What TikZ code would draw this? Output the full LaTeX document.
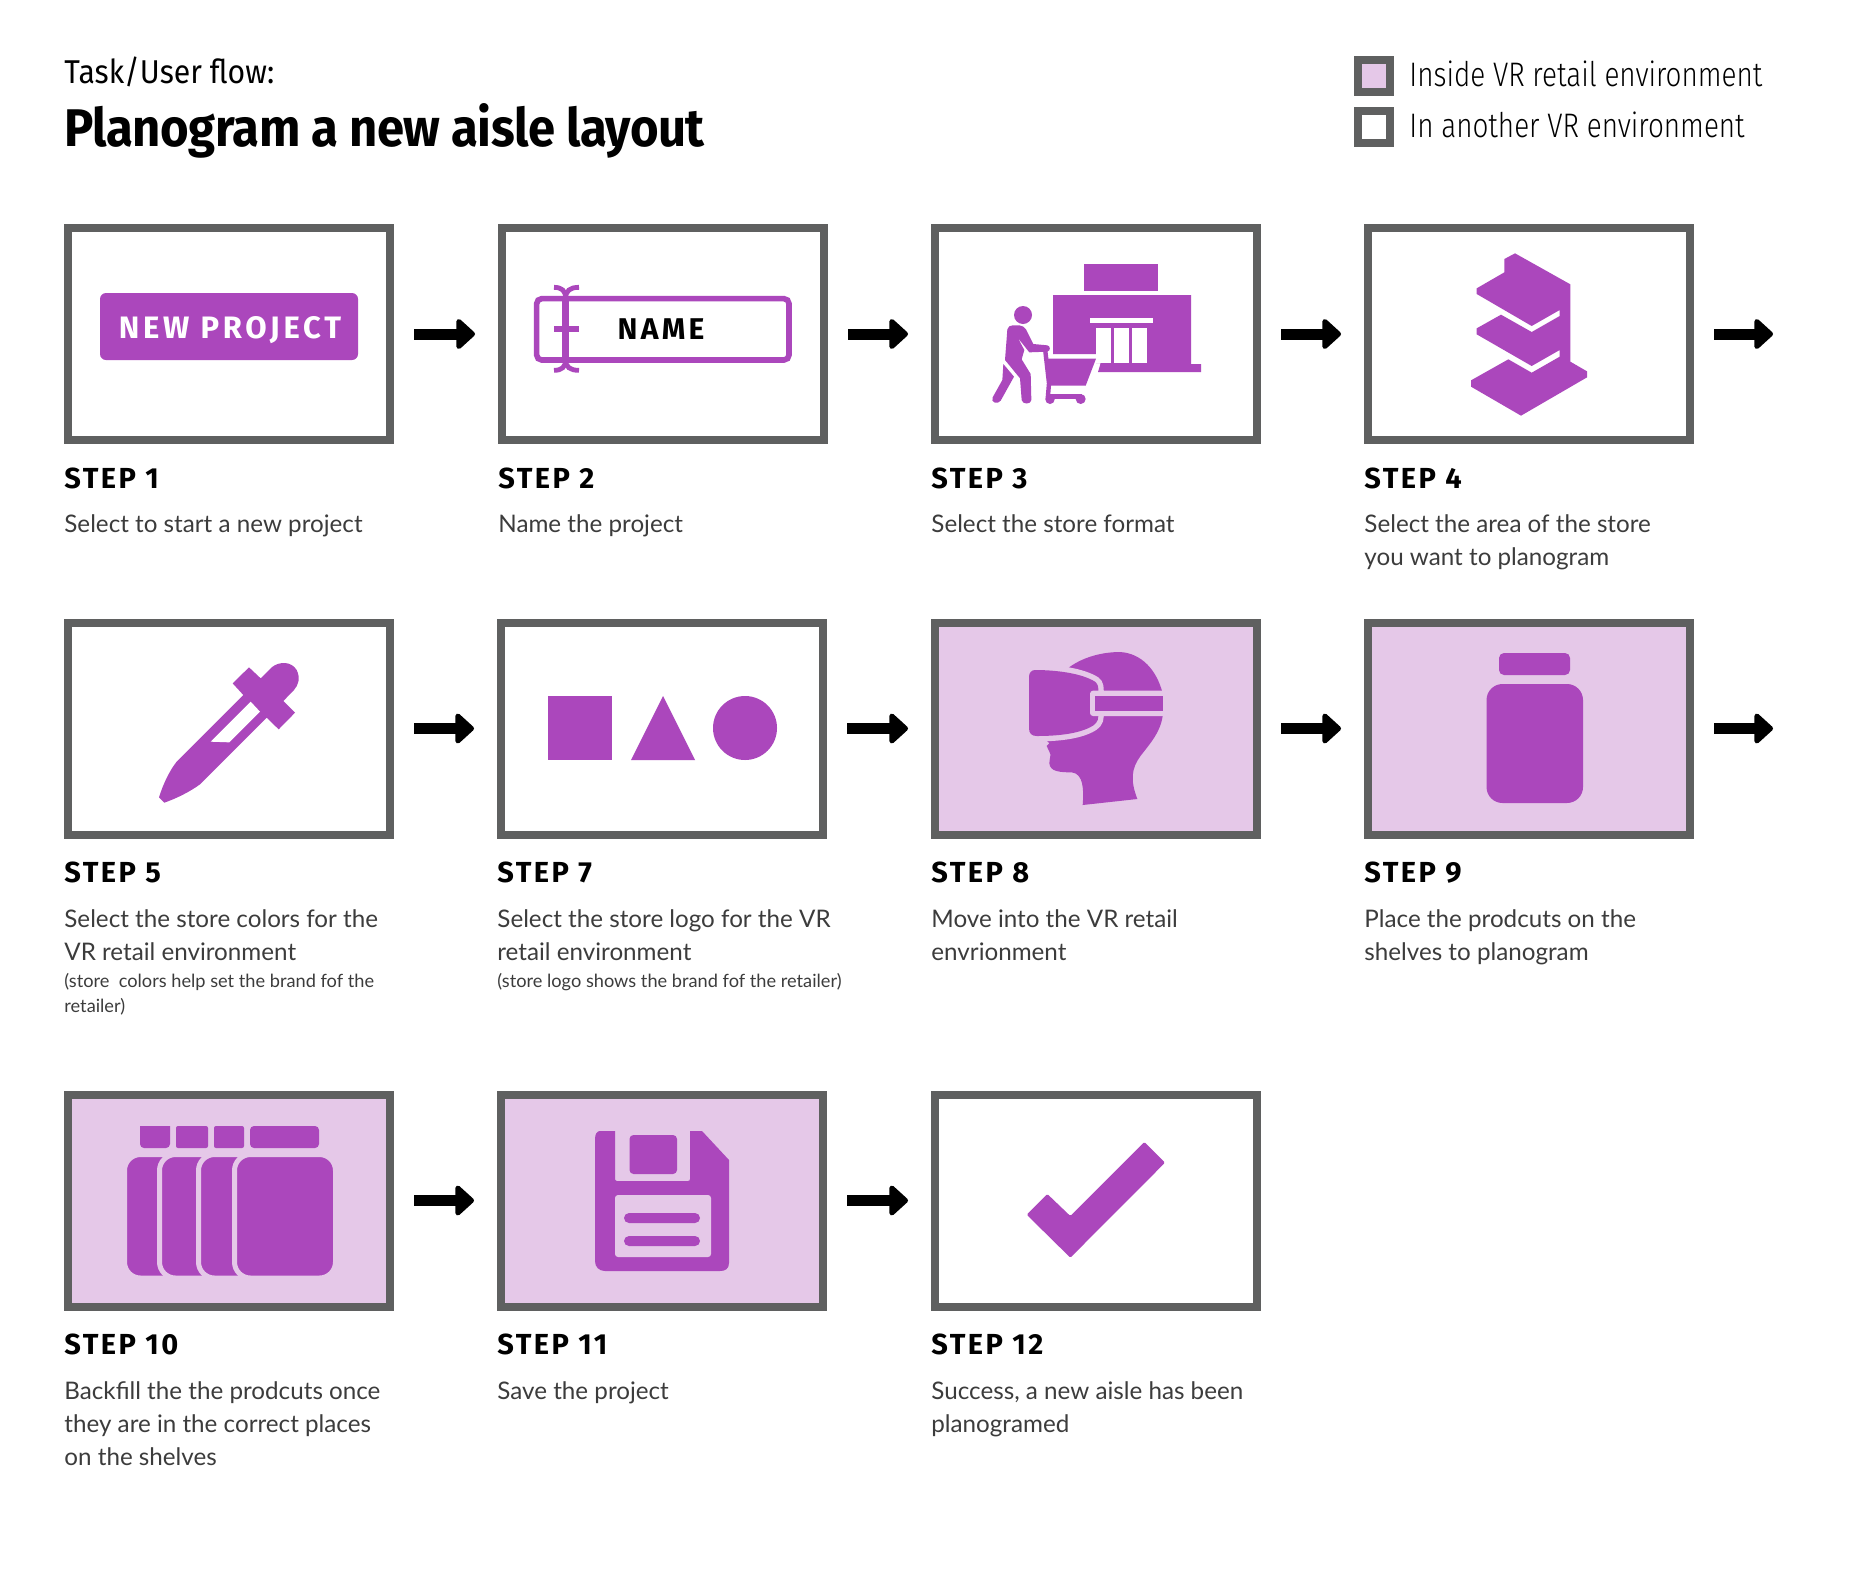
\documentclass[tikz,border=0pt]{standalone}
\usepackage{fontspec}
\usetikzlibrary{arrows.meta}
\setmainfont{Lato}
\newfontfamily\bodyf{Lato}
\newfontfamily\stepf[LetterSpace=8.5]{Fira Sans}
\newfontfamily\btnf[LetterSpace=12]{Fira Sans}
\newfontfamily\namef[LetterSpace=11]{Fira Sans}
\newfontfamily\titlef[LetterSpace=-1,FakeStretch=0.925]{Fira Sans}
\newfontfamily\headf[FakeStretch=0.915]{Fira Sans}
\newfontfamily\legf[UprightFont={* Light},FakeStretch=0.82]{Fira Sans}
\definecolor{framegray}{HTML}{5F6060}
\definecolor{vio}{HTML}{AB47BC}
\definecolor{lilac}{HTML}{E5C8E8}
\definecolor{bodyink}{HTML}{3C3C3C}
\tikzset{
  card/.style={draw=framegray,line width=4pt,rectangle,minimum width=161pt,minimum height=106pt,inner sep=0pt,fill=white},
  vrcard/.style={fill=lilac},
  chip/.style={draw=framegray,line width=4pt,rectangle,minimum width=16pt,minimum height=16pt,inner sep=0pt},
  flowarrow/.style={line width=5.5pt,-{Triangle[length=10pt,width=17.5pt,round,line width=3pt]},shorten <=10pt,shorten >=11.5pt},
  steplabel/.style={anchor=base west,inner sep=0pt,font=\stepf\bfseries\fontsize{14.5}{16}\selectfont,text=black},
  desc/.style={anchor=base west,inner sep=0pt,font=\bodyf\fontsize{12.1}{16.5}\selectfont,text=bodyink},
  legendtext/.style={anchor=base west,inner sep=0pt,font=\legf\fontsize{17}{20}\selectfont,text=black},
  zoomed/.style={x=0.166667pt,y=-0.166667pt},
}
\newcommand{\tinylines}{\fontsize{9.1}{12.5}\selectfont\baselineskip=12.5pt }
\newcommand{\card}[6]{%
  \node[card,#4] (#1) at (#2+165,#3+110) {};
  \node[steplabel] (#1t) at (#2,#3+264) {#5};
  \node[desc] (#1d) at (#2,#3+308.5) {\vtop{\baselineskip=16.5pt #6}};
}
\begin{document}
\begin{tikzpicture}[x=0.5pt,y=-0.5pt]
\useasboundingbox (0,0) rectangle (1850,1590);
\fill[white] (0,0) rectangle (1850,1590);
% header
\node[anchor=base west,inner sep=0pt,font=\headf\fontsize{16.5}{18}\selectfont] (kicker) at (64,83) {Task/User flow:};
\node[anchor=base west,inner sep=0pt,font=\titlef\bfseries\fontsize{26.5}{30}\selectfont] (title) at (64,146) {Planogram a new aisle layout};
% legend
\node[chip,fill=lilac] (leg1) at (1374,75.5) {};
\node[chip,fill=white] (leg2) at (1374,126.5) {};
\node[legendtext] (leg1t) at (1409,86.5) {Inside VR retail environment};
\node[legendtext] (leg2t) at (1409,137.5) {In another VR environment};
% cards
\card{s1}{64}{224}{}{STEP 1}{\hbox{Select to start a new project}}
\card{s2}{498}{224}{}{STEP 2}{\hbox{Name the project}}
\card{s3}{931}{224}{}{STEP 3}{\hbox{Select the store format}}
\card{s4}{1364}{224}{}{STEP 4}{\hbox{Select the area of the store}\hbox{you want to planogram}}
\card{s5}{64}{618.5}{}{STEP 5}{\hbox{Select the store colors for the}\hbox{VR retail environment}\tinylines\vskip1pt\hbox{(store\ \ colors help set the brand fof the}\hbox{retailer)}}
\card{s7}{497}{618.5}{}{STEP 7}{\hbox{Select the store logo for the VR}\hbox{retail environment}\tinylines\vskip1pt\hbox{(store logo shows the brand fof the retailer)}}
\card{s8}{931}{618.5}{vrcard}{STEP 8}{\hbox{Move into the VR retail}\hbox{envrionment}}
\card{s9}{1364}{618.5}{vrcard}{STEP 9}{\hbox{Place the prodcuts on the}\hbox{shelves to planogram}}
\card{s10}{64}{1090.5}{vrcard}{STEP 10}{\hbox{Backfill the the prodcuts once}\hbox{they are in the correct places}\hbox{on the shelves}}
\card{s11}{497}{1090.5}{vrcard}{STEP 11}{\hbox{Save the project}}
\card{s12}{931}{1090.5}{}{STEP 12}{\hbox{Success, a new aisle has been}\hbox{planogramed}}
% arrows
\coordinate (end1) at (1796,334);
\coordinate (end2) at (1796,728.5);
\draw[flowarrow] (s1.east) -- (s2.west);
\draw[flowarrow] (s2.east) -- (s3.west);
\draw[flowarrow] (s3.east) -- (s4.west);
\draw[flowarrow] (s4.east) -- (end1);
\draw[flowarrow] (s5.east) -- (s7.west);
\draw[flowarrow] (s7.east) -- (s8.west);
\draw[flowarrow] (s8.east) -- (s9.west);
\draw[flowarrow] (s9.east) -- (end2);
\draw[flowarrow] (s10.east) -- (s11.west);
\draw[flowarrow] (s11.east) -- (s12.west);
% step 1 button
\fill[vio,rounded corners=3pt] (100,293) rectangle (358,360);
\node[anchor=base,inner sep=0pt,text=white,font=\btnf\bfseries\fontsize{15.5}{18}\selectfont] (newproj) at (230,338) {NEW PROJECT};
% step 2 field
\begin{scope}[shift={(520,270)},zoomed]
\draw[vio,line width=2.8pt,rounded corners=2.5pt] (50,86) rectangle (807,270);
\draw[vio,line width=3.4pt] (137,80) -- (137,280);
\draw[vio,line width=3.2pt] (102,177) -- (177,177);
\draw[vio,line width=2.4pt] (102,52) .. controls (125,52) and (137,62) .. (137,85);
\draw[vio,line width=2.4pt] (177,52) .. controls (150,52) and (137,62) .. (137,85);
\draw[vio,line width=2.4pt] (102,301) .. controls (125,301) and (137,291) .. (137,270);
\draw[vio,line width=2.4pt] (177,301) .. controls (150,301) and (137,291) .. (137,270);
\end{scope}
\node[anchor=base,inner sep=0pt,text=black,font=\namef\bfseries\fontsize{15}{18}\selectfont] (namefield) at (661,339) {NAME};
% step 3 store
\begin{scope}[shift={(970,250)},zoomed]
\fill[vio] (342,42) rectangle (564,122);
\fill[vio] (249,135) -- (663,135) -- (663,342) -- (693,342) -- (693,366) -- (384,366) -- (392,339) -- (378,339) -- (378,312) -- (249,312) -- cycle;
\fill[white] (360,204) rectangle (549,219);
\fill[white] (378,235) rectangle (423,339);
\fill[white] (432,235) rectangle (477,339);
\fill[white] (486,235) rectangle (531,339);
\fill[vio] (159,195) circle[radius=27];
\fill[vio] (112,238) .. controls (114,230) and (120,226) .. (128,226) -- (148,226) .. controls (156,226) and (164,232) .. (168,238) -- (190,282) -- (232,286) .. controls (242,288) and (242,302) .. (232,305) -- (178,307) -- (143,263) -- (163,300) -- (155,328) -- (182,372) -- (184,450) .. controls (184,464) and (156,464) .. (155,450) -- (150,385) -- (105,330) -- cycle;
\fill[vio] (100,342) -- (132,380) -- (92,452) .. controls (84,464) and (60,458) .. (68,442) -- (97,390) -- cycle;
\draw[vio,line width=2.2pt] (225,295) -- (237,400) -- (233,448);
\fill[vio] (233,326) -- (378,326) -- (347,407) -- (242,407) -- cycle;
\fill[vio] (240,432) -- (335,432) -- (335,446) -- (240,446) -- cycle;
\fill[vio] (240,448) circle[radius=14];
\fill[vio] (332,447) circle[radius=15];
\end{scope}
% step 4 shelf
\begin{scope}[shift={(1450,240)},zoomed]
\fill[vio] (195,40) -- (361,133) -- (361,365) -- (411,394) -- (411,412) -- (213,527) -- (63,440) -- (63,421) -- (175,358) -- (245,398) -- (329,350) -- (329,330) -- (245,378) -- (80,283) -- (80,265) -- (153,224) -- (245,276) -- (329,228) -- (329,210) -- (245,258) -- (80,162) -- (80,145) -- (163,97) -- (163,57) -- cycle;
\end{scope}
% step 5 dropper
\begin{scope}[shift={(140,650)},zoomed]
\fill[vio] (73,458) -- (57,442) .. controls (70,400) and (90,360) .. (110,335) -- (310,135) -- (278,100) -- (327,52) -- (362,85) -- (395,52) .. controls (420,32) and (455,35) .. (470,60) .. controls (482,85) and (475,105) .. (462,120) -- (430,153) -- (465,188) -- (416,238) -- (380,203) -- (180,403) .. controls (150,425) and (110,445) .. (73,458) -- cycle;
\fill[white] (332,155) -- (360,185) -- (268,277) -- (212,275) -- cycle;
\end{scope}
% step 7 shapes
\fill[vio] (548,696) rectangle (612,760);
\fill[vio] (663,696) -- (695,760) -- (631,760) -- cycle;
\fill[vio] (745,728) circle[radius=32];
% step 8 head
\begin{scope}[shift={(1010,640)},zoomed]
\fill[vio] (180,80) .. controls (230,45) and (290,36) .. (330,36) .. controls (395,40) and (440,90) .. (458,160) -- (458,228) .. controls (450,280) and (420,310) .. (390,350) .. controls (365,385) and (360,420) .. (382,477) -- (218,495) .. controls (222,450) and (220,400) .. (185,397) .. controls (150,397) and (120,395) .. (118,370) .. controls (118,355) and (125,345) .. (118,335) -- (110,318) -- (118,310) -- (110,302) -- (110,150) -- cycle;
\path[draw=lilac,line width=5.4pt] (75,90) .. controls (140,90) and (215,100) .. (255,125) .. controls (265,132) and (265,145) .. (265,152) -- (265,228) .. controls (265,245) and (255,255) .. (240,262) .. controls (200,282) and (140,288) .. (80,288) .. controls (65,288) and (57,280) .. (57,265) -- (57,110) .. controls (57,98) and (65,90) .. (75,90) -- cycle;
\fill[vio] (75,90) .. controls (140,90) and (215,100) .. (255,125) .. controls (265,132) and (265,145) .. (265,152) -- (265,228) .. controls (265,245) and (255,255) .. (240,262) .. controls (200,282) and (140,288) .. (80,288) .. controls (65,288) and (57,280) .. (57,265) -- (57,110) .. controls (57,98) and (65,90) .. (75,90) -- cycle;
\fill[lilac,rounded corners=1.5pt] (240,152) rectangle (470,228);
\fill[vio] (255,167) rectangle (460,214);
\end{scope}
% step 9 bottle
\fill[vio,rounded corners=2.5pt] (1499,653) rectangle (1570,675);
\fill[vio,rounded corners=8pt] (1486.5,684) rectangle (1583,803);
% step 10 bottles
\begin{scope}[yshift=-0.5pt]
\fill[vio,rounded corners=2pt] (140,1125) -- (140,1147) -- (170,1147) [sharp corners] -- (170,1125) -- cycle;
\fill[vio,rounded corners=1pt] (176,1125) rectangle (208,1147);
\fill[vio,rounded corners=1pt] (214,1125) rectangle (244,1147);
\fill[vio,rounded corners=2pt] (250,1125) rectangle (319,1147);
\foreach \bx in {127,162,201,237}{
  \path[fill=vio,draw=lilac,line width=2.5pt,rounded corners=8pt] (\bx-2.5,1153.5) rectangle (\bx+98.5,1277);
}
% step 11 floppy
\fill[vio] (600,1130) -- (615,1130) -- (615,1178) [rounded corners=1pt] -- (615,1180) -- (690,1180) [sharp corners] -- (690,1130) -- (702,1130) -- (729,1159) -- (729,1262) .. controls (729,1268) and (725,1270) .. (720,1270) -- (605,1270) .. controls (599,1270) and (595,1266) .. (595,1260) -- (595,1138) .. controls (595,1133) and (597,1130) .. (600,1130) -- cycle;
\fill[lilac,rounded corners=1.5pt] (615,1194) rectangle (711,1256);
\fill[vio,rounded corners=2pt] (629.5,1134) rectangle (677,1173);
\fill[vio,rounded corners=2.5pt] (624,1212) rectangle (700,1222);
\fill[vio,rounded corners=2.5pt] (624,1235) rectangle (700,1245);
\end{scope}
% step 12 check
\begin{scope}[shift={(925,1080)},zoomed]
\fill[vio,rounded corners=0.6pt] (305,404) -- (367,342) -- (436,408) -- (658,186) -- (720,248) -- (436,533) -- cycle;
\end{scope}
\end{tikzpicture}
\end{document}
